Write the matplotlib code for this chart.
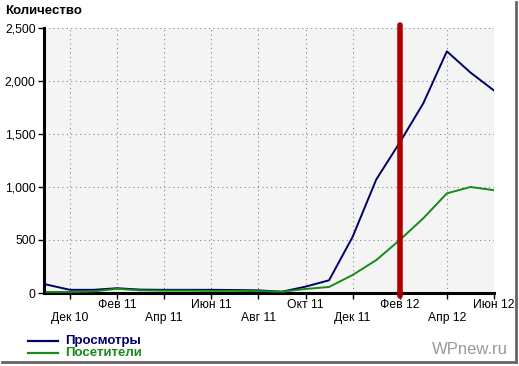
import matplotlib.pyplot as plt
from matplotlib.ticker import FuncFormatter
from matplotlib.lines import Line2D

# ---------------- data (monthly, Nov 10 .. Jun 12) ----------------
months = ["Ноя 10", "Дек 10", "Янв 11", "Фев 11", "Мар 11", "Апр 11", "Май 11",
          "Июн 11", "Июл 11", "Авг 11", "Сен 11", "Окт 11", "Ноя 11", "Дек 11",
          "Янв 12", "Фев 12", "Мар 12", "Апр 12", "Май 12", "Июн 12"]
views    = [80, 30, 30, 45, 32, 30, 30, 30, 28, 25, 12, 60, 120, 530,
            1070, 1420, 1790, 2280, 2080, 1910]
visitors = [10, 10, 15, 40, 25, 22, 22, 20, 20, 18, 12, 38, 57, 170,
            310, 500, 705, 940, 1000, 970]
tick_idx    = [1, 3, 5, 7, 9, 11, 13, 15, 17, 19]
tick_labels = ["Дек 10", "Фев 11", "Апр 11", "Июн 11", "Авг 11",
               "Окт 11", "Дек 11", "Фев 12", "Апр 12", "Июн 12"]
marker_month = 15   # Feb 12

plt.rcParams['font.family'] = ['Liberation Sans', 'DejaVu Sans']

fig = plt.figure(figsize=(5.19, 3.66), dpi=100)
ax = fig.add_axes([44/519, 1-293/366, 450/519, 265/366])
ax.set_facecolor("#f4f4f4")

x = list(range(len(months)))
ax.plot(x, views, color="#000066", lw=1.4, zorder=3)
ax.plot(x, visitors, color="#178a17", lw=1.4, zorder=3)
ax.axvline(marker_month, ymin=-0.01, ymax=1.01, color="#b00000", lw=4,
           solid_capstyle="round", zorder=4, clip_on=False)

ax.set_xlim(-0.1, 19)
ax.set_ylim(0, 2500)
ax.set_yticks([0, 500, 1000, 1500, 2000, 2500])
ax.yaxis.set_major_formatter(FuncFormatter(lambda v, p: f"{int(v):,}"))

# staggered x labels
labs = [("\n" + t) if i % 2 == 0 else t for i, t in enumerate(tick_labels)]
ax.set_xticks(tick_idx)
ax.set_xticklabels(labs, linespacing=1.15)
ax.tick_params(axis="both", labelsize=8.7, length=4, width=1, color="black",
               pad=2, labelcolor="black")
ax.tick_params(axis="x", pad=0)

ax.grid(True, color="#888888", ls=(0, (1, 3)), lw=0.8)
for s in ["top", "right"]:
    ax.spines[s].set_visible(False)
ax.spines["left"].set_linewidth(2.2)
ax.spines["bottom"].set_linewidth(2.2)

fig.text(5/519, 1-11/366, "Количество", fontsize=9.5, fontweight="bold",
         va="center", ha="left")

# legend
fig.add_artist(Line2D([28/519, 58/519], [1-341/366, 1-341/366],
                      color="#000066", lw=1.6))
fig.add_artist(Line2D([28/519, 58/519], [1-353/366, 1-353/366],
                      color="#178a17", lw=1.6))
fig.text(65/519, 1-341/366, "Просмотры", fontsize=9.5, fontweight="bold",
         color="#000066", va="center")
fig.text(65/519, 1-353/366, "Посетители", fontsize=9.5, fontweight="bold",
         color="#178a17", va="center")

fig.text(508/519, 1-350/366, "WPnew.ru", fontsize=12, color="#9a9a9a",
         ha="right", va="center")

# frame shadow on right and bottom
fig.add_artist(Line2D([516/519, 516/519], [1-2/366, 1-362/366],
                      color="#666666", lw=2))
fig.add_artist(Line2D([2/519, 516/519], [1-362/366, 1-362/366],
                      color="#666666", lw=2))

fig.savefig("out.png", dpi=100)
